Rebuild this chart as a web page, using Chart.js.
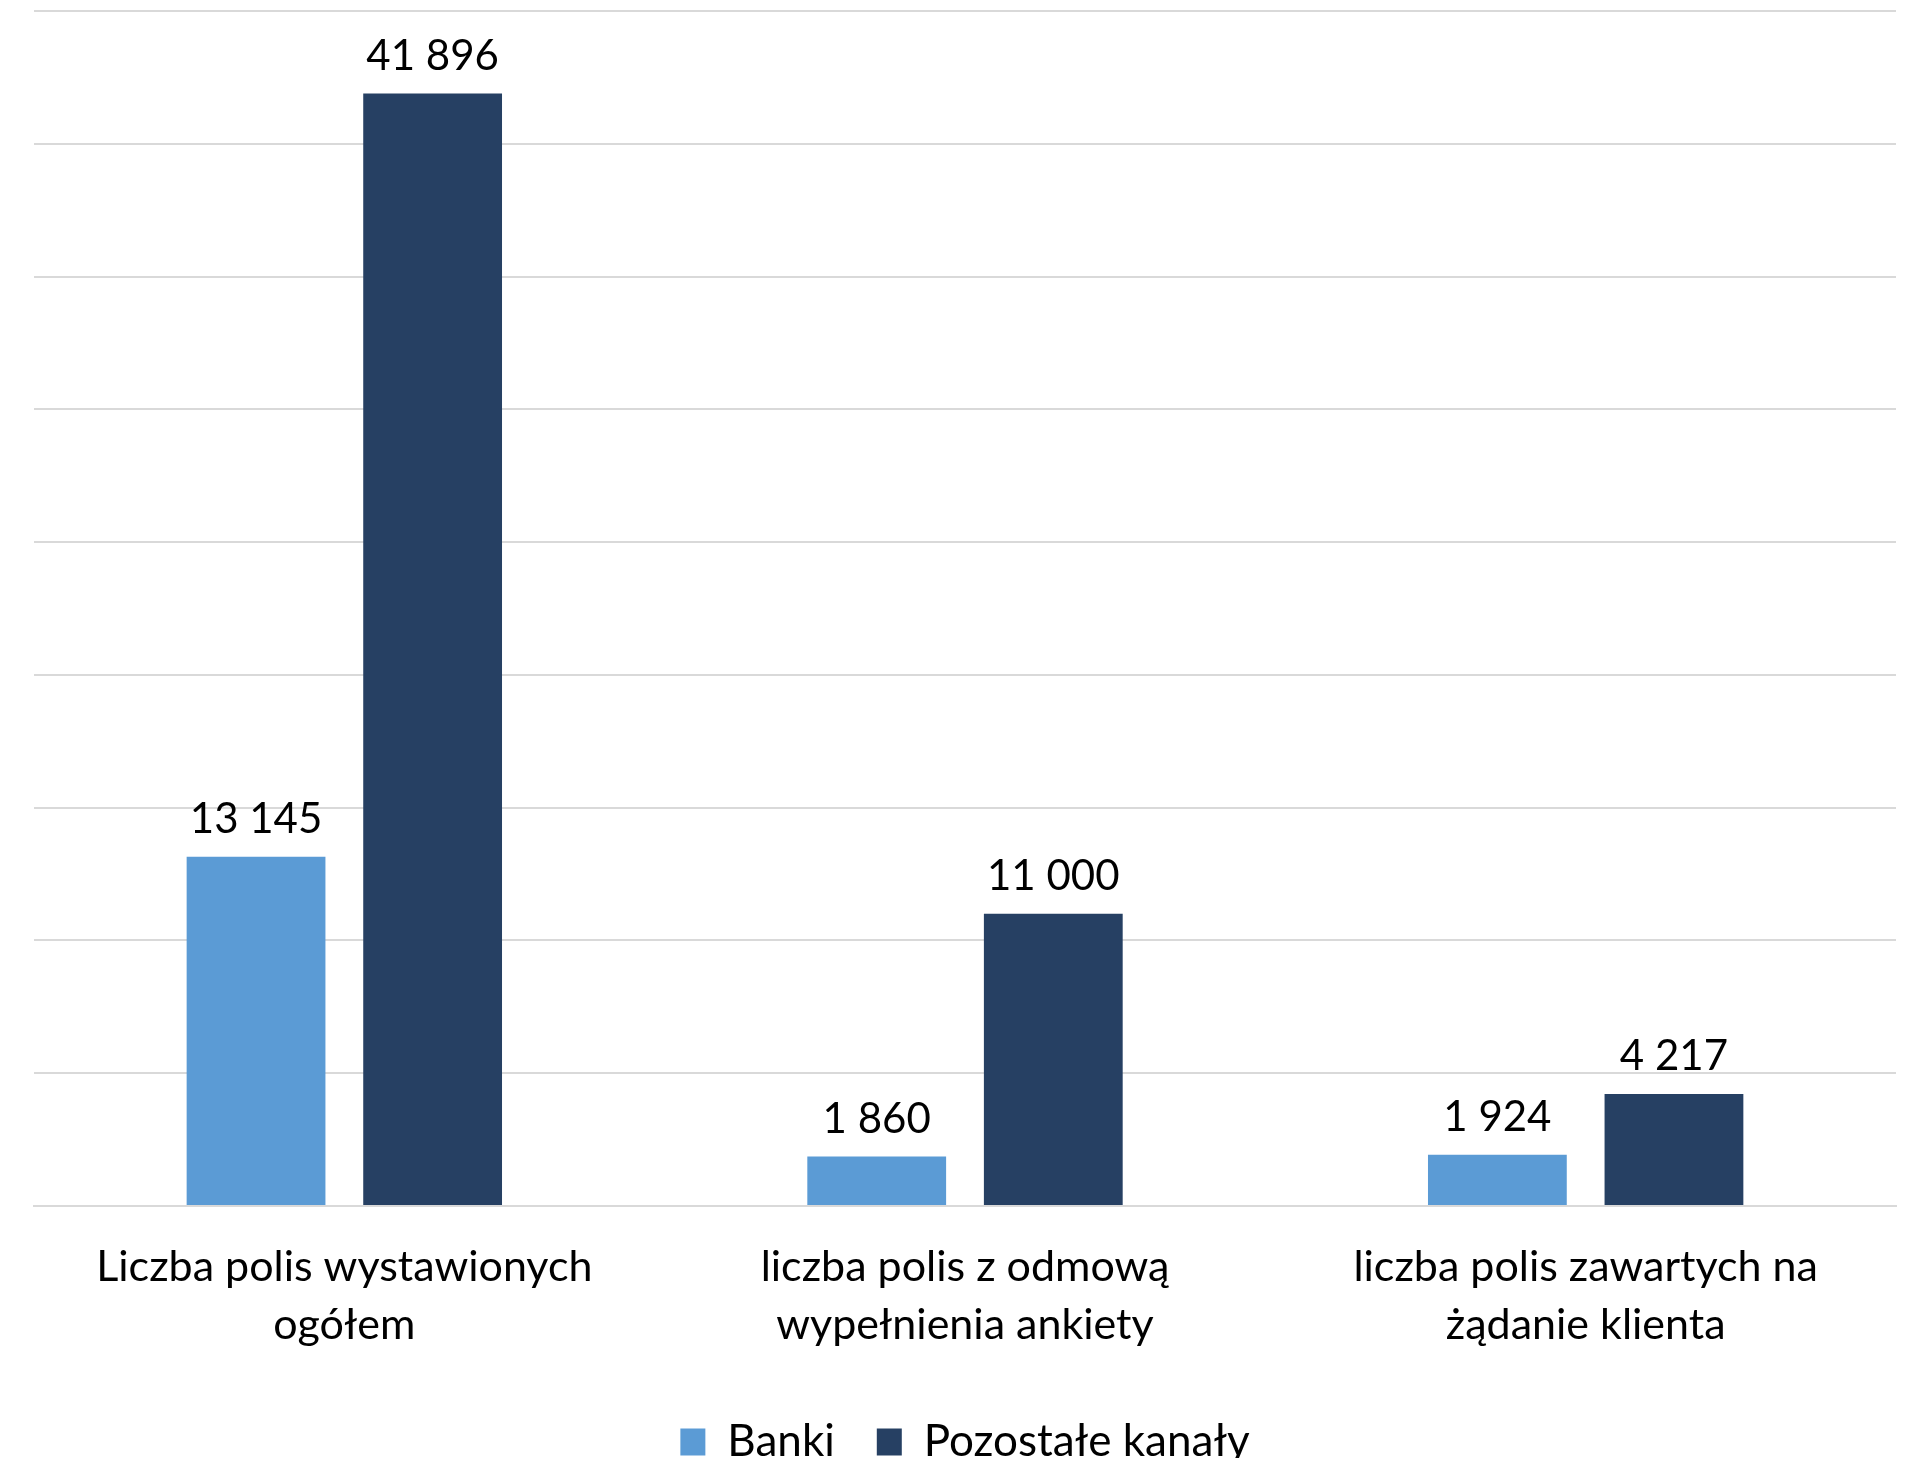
<!DOCTYPE html>
<html>
<head>
<meta charset="utf-8">
<script src="https://cdn.jsdelivr.net/npm/chart.js@4.4.1/dist/chart.umd.min.js"></script>
<style>
    html, body { margin: 0; padding: 0; background: #fff; }
    #wrap { width: 1909px; height: 1458px; }
</style>
</head>
<body>
<div id="wrap"><canvas id="polisyChart"></canvas></div>
<script>
// dane z wykresu
var categories = [
    ['Liczba polis wystawionych', 'ogółem'],
    ['liczba polis z odmową', 'wypełnienia ankiety'],
    ['liczba polis zawartych na', 'żądanie klienta']
];
var seriesNames = ['Banki', 'Pozostałe kanały'];
var banki = [13145, 1860, 1924];
var pozostale = [41896, 11000, 4217];
var yMax = 45000;
var yStep = 5000;

var FONT = 'Lato, "Open Sans", sans-serif';

// liczby ze spacją jako separatorem tysięcy
function formatNum(v) {
    return String(v).replace(/\B(?=(\d{3})+(?!\d))/g, ' ');
}

// etykiety wartości nad słupkami
var valueLabels = {
    id: 'valueLabels',
    afterDatasetsDraw: function(chart) {
        var ctx = chart.ctx;
        ctx.save();
        ctx.font = '42px ' + FONT;
        ctx.fillStyle = '#000';
        ctx.textAlign = 'center';
        ctx.textBaseline = 'bottom';
        chart.data.datasets.forEach(function(ds, i) {
            chart.getDatasetMeta(i).data.forEach(function(bar, j) {
                ctx.fillText(formatNum(ds.data[j]), bar.x, bar.y - 16);
            });
        });
        ctx.restore();
    }
};

var ctx = document.getElementById('polisyChart').getContext('2d');
var polisyChart = new Chart(ctx, {
    type: 'bar',
    data: {
        labels: categories,
        datasets: [{
            label: seriesNames[0],
            data: banki,
            backgroundColor: '#5b9bd5',
            categoryPercentage: 0.569,
            barPercentage: 0.786
        }, {
            label: seriesNames[1],
            data: pozostale,
            backgroundColor: '#264063',
            categoryPercentage: 0.569,
            barPercentage: 0.786
        }]
    },
    options: {
        responsive: true,
        maintainAspectRatio: false,
        animation: false,
        devicePixelRatio: 1,
        layout: {
            padding: { top: 11, right: 13, left: 34, bottom: -16 }
        },
        scales: {
            x: {
                grid: { display: false },
                border: { display: true, color: '#d9d9d9', width: 2 },
                ticks: {
                    color: '#000',
                    padding: 24,
                    maxRotation: 0,
                    font: { family: FONT, size: 43, lineHeight: 1.35 }
                }
            },
            y: {
                min: 0,
                max: yMax,
                ticks: { display: false, stepSize: yStep },
                border: { display: false },
                grid: { color: '#d9d9d9', lineWidth: 2, drawTicks: false }
            }
        },
        plugins: {
            tooltip: { enabled: false },
            legend: {
                position: 'bottom',
                labels: {
                    color: '#000',
                    boxWidth: 25,
                    boxHeight: 27,
                    padding: 42,
                    font: { family: FONT, size: 44 }
                }
            }
        }
    },
    plugins: [valueLabels]
});
</script>
</body>
</html>
